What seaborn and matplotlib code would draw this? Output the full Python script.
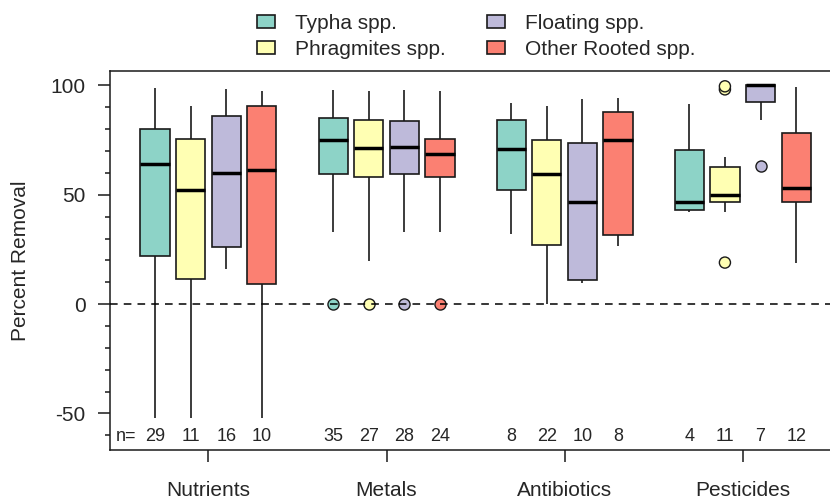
import seaborn as sns
import matplotlib.pyplot as plt
import pandas as pd
from matplotlib.ticker import FixedLocator, MultipleLocator

groups = ['Nutrients', 'Metals', 'Antibiotics', 'Pesticides']
species = ['Typha spp.', 'Phragmites spp.', 'Floating spp.', 'Other Rooted spp.']
colors = ['#8DD3C7', '#FFFFB3', '#BEBADA', '#FB8072']

# five-number summaries (per group), plus outliers
typha_lo = [-52, 33, 32, 42]
typha_q1 = [22, 59.3, 52, 43]
typha_med = [64, 75, 71, 46.6]
typha_q3 = [80.3, 85.3, 84.4, 70.3]
typha_hi = [99, 98, 92, 91.6]
typha_out = [[], [0], [], []]

phrag_lo = [-52, 19.5, 0, 42]
phrag_q1 = [11.5, 58.1, 27, 46.5]
phrag_med = [52.3, 71.3, 59.6, 50.1]
phrag_q3 = [75.5, 84.4, 75.2, 62.5]
phrag_hi = [90.5, 97.4, 90.8, 67.3]
phrag_out = [[], [0], [], [19, 98.2, 99.6]]

float_lo = [16, 33, 9.5, 84.4]
float_q1 = [26, 59.3, 11, 92.4]
float_med = [60, 72, 46.6, 100]
float_q3 = [86, 83.8, 73.7, 100]
float_hi = [98.2, 98, 93.6, 100]
float_out = [[], [0], [], [63.2]]

other_lo = [-52, 33, 26.6, 19]
other_q1 = [9, 58.1, 31.7, 46.5]
other_med = [61.5, 68.5, 75.2, 53.2]
other_q3 = [90.4, 75.4, 87.8, 78.3]
other_hi = [97.4, 97.4, 94.3, 99.4]
other_out = [[], [0], [], []]

n_typha = [29, 35, 8, 4]
n_phrag = [11, 27, 22, 11]
n_float = [16, 28, 10, 7]
n_other = [10, 24, 8, 12]

summ = {
    'Typha spp.': (typha_lo, typha_q1, typha_med, typha_q3, typha_hi, typha_out),
    'Phragmites spp.': (phrag_lo, phrag_q1, phrag_med, phrag_q3, phrag_hi, phrag_out),
    'Floating spp.': (float_lo, float_q1, float_med, float_q3, float_hi, float_out),
    'Other Rooted spp.': (other_lo, other_q1, other_med, other_q3, other_hi, other_out),
}
counts = [n_typha, n_phrag, n_float, n_other]


def sample(lo, q1, med, q3, hi, out, k=3):
    # 4k+1 values whose quartiles / whiskers equal the summary
    low = sorted(v for v in out if v < q1)
    high = sorted(v for v in out if v > q3)
    return (low + [lo] + [q1] * (k - len(low)) + [med] * k + [q3] * k
            + [q3] * (k - 1 - len(high)) + [hi] + high)


rows, fl = [], []
for sp, (lo, q1, med, q3, hi, out) in summ.items():
    for i, g in enumerate(groups):
        for v in sample(lo[i], q1[i], med[i], q3[i], hi[i], out[i]):
            rows.append((g, sp, v))
        for v in out[i]:
            fl.append((g, sp, v))
df = pd.DataFrame(rows, columns=['group', 'species', 'value'])
df_out = pd.DataFrame(fl, columns=['group', 'species', 'value'])

sns.set_theme(style='ticks')
plt.rcParams['font.family'] = ['Liberation Sans', 'DejaVu Sans']
plt.rcParams['axes.unicode_minus'] = False

fig = plt.figure(figsize=(8.3, 4.99), dpi=100)
ax = fig.add_axes([0.1325, 0.0982, 0.8675, 0.7595])

sns.boxplot(data=df, x='group', y='value', hue='species', order=groups,
            hue_order=species, palette=colors, saturation=1, width=0.8,
            gap=0.18, linecolor='#1a1a1a', linewidth=1.2, showfliers=False,
            medianprops={'linewidth': 2.5, 'color': 'black'},
            capprops={'linewidth': 0}, ax=ax)
sns.stripplot(data=df_out, x='group', y='value', hue='species', order=groups,
              hue_order=species, palette=colors, dodge=True, jitter=False,
              size=8, edgecolor='#1a1a1a', linewidth=1, legend=False,
              zorder=3, ax=ax)

ax.axhline(0, color='black', linestyle=(0, (5, 4)), linewidth=1.1, zorder=4)

offsets = [-0.3, -0.1, 0.1, 0.3]
for j, n in enumerate(counts):
    for i in range(len(groups)):
        ax.text(i + offsets[j], -60.5, str(n[i]), ha='center', va='center',
                fontsize=13)
ax.text(-0.463, -60.5, 'n=', ha='center', va='center', fontsize=13)

ax.set_xlim(-0.553, 3.49)
ax.set_ylim(-66.7, 106.6)
ax.yaxis.set_major_locator(FixedLocator([-50, 0, 50, 100]))
ax.yaxis.set_minor_locator(MultipleLocator(10))
ax.tick_params(axis='y', which='major', length=9, width=1.1, pad=8.5,
               labelsize=15, color='#1a1a1a')
ax.tick_params(axis='y', which='minor', length=3.8, width=1.1, color='#1a1a1a')
ax.tick_params(axis='x', length=8.6, width=1.1, pad=14, labelsize=15,
               color='#1a1a1a')
ax.set_xlabel('')
ax.set_ylabel('Percent Removal', fontsize=15)
ax.yaxis.set_label_coords(-0.111, 0.5)
for s in ['left', 'bottom', 'top']:
    ax.spines[s].set_linewidth(1.1)
    ax.spines[s].set_color('#1a1a1a')
ax.spines['right'].set_visible(False)

handles, labels = ax.get_legend_handles_labels()
ax.legend(handles, labels, loc='upper left', bbox_to_anchor=(0.3096, 0.972),
          bbox_transform=fig.transFigure, ncol=2, frameon=False, fontsize=15,
          handlelength=0.87, handleheight=0.55, handletextpad=0.95,
          columnspacing=2.0, labelspacing=0.32, borderpad=0, borderaxespad=0)

fig.savefig('out.png', dpi=100)
